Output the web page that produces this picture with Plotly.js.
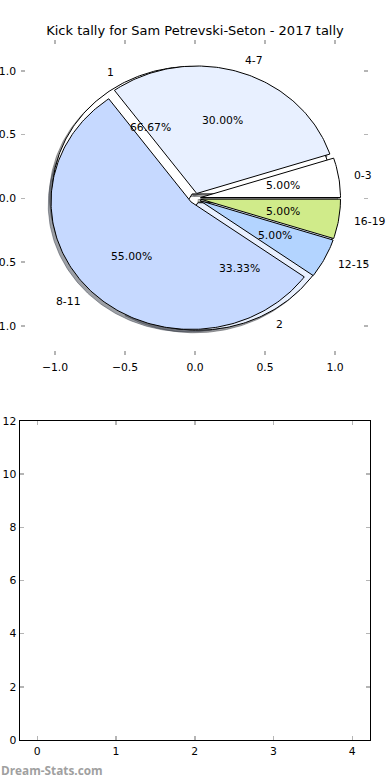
<!DOCTYPE html>
<html><head><meta charset="utf-8">
<script src="https://cdn.plot.ly/plotly-3.0.1.min.js"></script>
<style>html,body{margin:0;padding:0;background:#fff}#chart{width:390px;height:780px}</style>
</head><body><div id="chart"></div>
<script>
// ---- data ----
const chartTitle = 'Kick tally for Sam Petrevski-Seton - 2017 tally';
const outerLabels = ['1', '2'];
const outerValues = [2, 1];
const innerLabels = ['0-3', '4-7', '8-11', '12-15', '16-19'];
const innerValues = [1, 6, 11, 1, 1];
const pieTicks = [-1.0, -0.5, 0.0, 0.5, 1.0];
const lowerTicksX = [0, 1, 2, 3, 4];
const lowerTicksY = [0, 2, 4, 6, 8, 10, 12];
const watermark = 'Dream-Stats.com';

// ---- style ----
const palette = ['#ffffff', '#e8f0ff', '#c6d9ff', '#b3d4ff', '#d0eb8a'];
const EXPLODE = 0.04, SH = -0.02, LABELD = 1.1, PCTD = 0.6;
const FONT = 'DejaVu Sans';
const W = 390, H = 780;

function rgb(h){return [1,3,5].map(i=>parseInt(h.substr(i,2),16));}
function shadowColor(h){
  const c = rgb(h).map(v=>Math.round(v*0.3));
  return 'rgba('+c.join(',')+',0.5)';
}
function buildPie(values, labels){
  const total = values.reduce((a,b)=>a+b,0);
  let cum = 0;
  return values.map((v,i)=>{
    const t1 = cum/total*360, t2 = (cum+v)/total*360; cum += v;
    const mid = (t1+t2)/2*Math.PI/180;
    const cx = EXPLODE*Math.cos(mid), cy = EXPLODE*Math.sin(mid);
    const xs=[cx], ys=[cy];
    const n = Math.max(4, Math.ceil(t2-t1));
    for(let k=0;k<=n;k++){
      const a = (t1+(t2-t1)*k/n)*Math.PI/180;
      xs.push(cx+Math.cos(a)); ys.push(cy+Math.sin(a));
    }
    xs.push(cx); ys.push(cy);
    return {xs, ys, cx, cy, mid, pct: v/total*100, label: labels[i], color: palette[i % palette.length]};
  });
}
const outer = buildPie(outerValues, outerLabels);
const inner = buildPie(innerValues, innerLabels);
const all = outer.concat(inner);

const traces = [];
all.forEach(w=>{
  const sc = shadowColor(w.color);
  traces.push({type:'scatter', mode:'lines', x:w.xs.map(v=>v+SH), y:w.ys.map(v=>v+SH),
    fill:'toself', fillcolor:sc, line:{color:sc, width:1}, hoverinfo:'skip', showlegend:false, xaxis:'x', yaxis:'y'});
});
all.forEach(w=>{
  traces.push({type:'scatter', mode:'lines', x:w.xs, y:w.ys,
    fill:'toself', fillcolor:w.color, line:{color:'#000', width:1}, hoverinfo:'skip', showlegend:false, xaxis:'x', yaxis:'y'});
});
traces.push({type:'scatter', mode:'markers', x:[], y:[], xaxis:'x2', yaxis:'y2', showlegend:false, hoverinfo:'skip'});

const annotations = [];
all.forEach(w=>{
  const lx = w.cx + LABELD*Math.cos(w.mid), ly = w.cy + LABELD*Math.sin(w.mid);
  annotations.push({x:lx, y:ly, xref:'x', yref:'y', text:w.label, showarrow:false,
    xanchor: lx>0 ? 'left':'right', yanchor:'middle', borderpad:0,
    font:{family:FONT, size:10.8, color:'#000'}});
  const px = w.cx + PCTD*Math.cos(w.mid), py = w.cy + PCTD*Math.sin(w.mid);
  annotations.push({x:px, y:py, xref:'x', yref:'y', text:w.pct.toFixed(2)+'%', showarrow:false,
    xanchor:'center', yanchor:'middle', borderpad:0,
    font:{family:FONT, size:10.8, color:'#000'}});
});
annotations.push({x:0, y:1-770/H, xref:'paper', yref:'paper', text:watermark, showarrow:false,
  xanchor:'left', yanchor:'middle', borderpad:0,
  font:{family:'Open Sans', size:11.8, color:'#a0a0a0', weight:'bold'}});

const tickFont = {family:FONT, size:10.8, color:'#000'};
const layout = {
  width:W, height:H, margin:{l:0,r:0,t:0,b:0},
  paper_bgcolor:'#fff', plot_bgcolor:'rgba(0,0,0,0)',
  showlegend:false,
  title:{text:chartTitle, x:0.5, xanchor:'center', xref:'paper', y:1-30/H, yanchor:'middle', yref:'paper',
    font:{family:FONT, size:13, color:'#000'}},
  xaxis:{domain:[21/W, 368/W], range:[-1.243, 1.236], anchor:'y', tickvals:pieTicks, tickformat:'.1f',
    ticks:'inside', ticklen:4, tickwidth:1.5, tickcolor:'#b5b5b5', mirror:'ticks', showline:false,
    showgrid:false, zeroline:false, tickfont:tickFont, ticklabelstandoff:4, fixedrange:true},
  yaxis:{domain:[1-355/H, 1-40/H], range:[-1.229, 1.242], anchor:'x', tickvals:pieTicks, tickformat:'.1f',
    ticks:'inside', ticklen:4, tickwidth:1.5, tickcolor:'#b5b5b5', mirror:'ticks', showline:false,
    showgrid:false, zeroline:false, tickfont:tickFont, ticklabelstandoff:4, fixedrange:true},
  xaxis2:{domain:[19.5/W, 370/W], range:[-0.226, 4.225], anchor:'y2', tickvals:lowerTicksX,
    ticks:'inside', ticklen:4, tickwidth:1.5, tickcolor:'#b5b5b5', mirror:'ticks', showline:true,
    linecolor:'#000', linewidth:1, showgrid:false, zeroline:false, tickfont:tickFont, ticklabelstandoff:1, fixedrange:true},
  yaxis2:{domain:[1-740/H, 1-421/H], range:[0, 12], anchor:'x2', tickvals:lowerTicksY,
    ticks:'inside', ticklen:4, tickwidth:1.5, tickcolor:'#b5b5b5', mirror:'ticks', showline:true,
    linecolor:'#000', linewidth:1, showgrid:false, zeroline:false, tickfont:tickFont, ticklabelstandoff:0, fixedrange:true},
  annotations
};
Plotly.newPlot('chart', traces, layout, {staticPlot:true, displayModeBar:false});
</script>
</body></html>
